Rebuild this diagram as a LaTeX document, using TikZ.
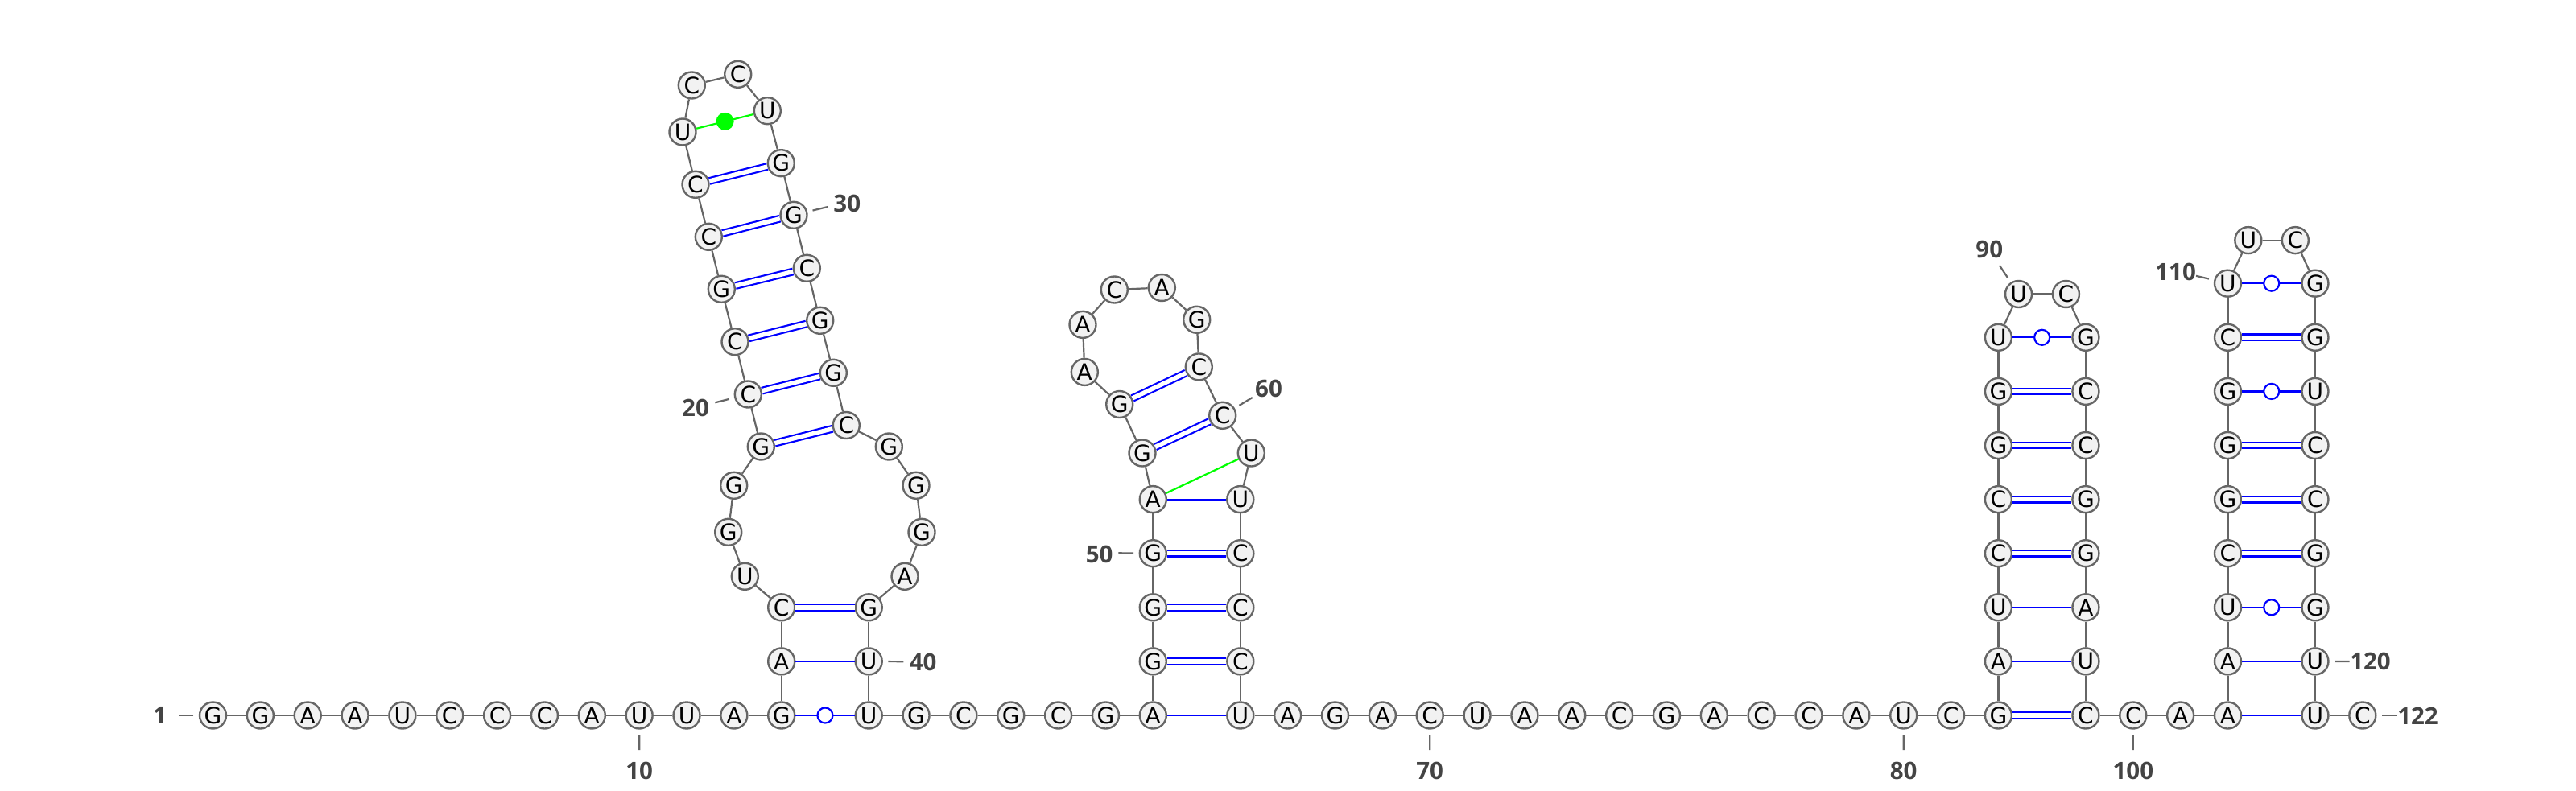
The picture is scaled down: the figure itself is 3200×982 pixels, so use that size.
\documentclass[tikz,border=0pt]{standalone}
\usepackage{fontspec}
\setmainfont{DejaVu Sans}
\setsansfont{Open Sans}
\definecolor{ntline}{HTML}{666666}
\definecolor{ntfill}{HTML}{F2F2F2}
\definecolor{numtext}{HTML}{444444}
\definecolor{gubond}{HTML}{0000FF}
\definecolor{ugbond}{HTML}{00FF00}
\begin{document}
\begin{tikzpicture}[x=1pt,y=-1pt,
  nt/.style={circle,draw=ntline,fill=ntfill,line width=2.4pt,minimum size=33pt,inner sep=0pt,font=\fontsize{28pt}{28pt}\selectfont},
  nextof/.style={node distance=58.85pt,right of=#1},
  upof/.style={node distance=67.1pt,above of=#1},
  pairof/.style={node distance=108.5pt,right of=#1},
  bb/.style={draw=ntline,line width=2.2pt},
  single/.style={draw=gubond,line width=2.2pt},
  double bond/.style={draw=gubond,line width=2.2pt,double=white,double distance=5.4pt},
  green bond/.style={draw=ugbond,line width=2.2pt},
  ring/.style={circle,draw=gubond,fill=white,line width=2.2pt,minimum size=19pt,inner sep=0pt},
  dot/.style={circle,fill=ugbond,minimum size=22pt,inner sep=0pt},
  tick/.style={draw=ntline,line width=2.2pt,shorten <=6.5pt},
  num/.style={text=numtext,inner sep=0pt,font=\sffamily\bfseries\fontsize{29.5pt}{30pt}\selectfont}]
\useasboundingbox (0,0) rectangle (3200,982);
\node (n1) [nt] at (264.5,889) {G};
\node (n2) [nt,nextof=n1] {G};
\node (n3) [nt,nextof=n2] {A};
\node (n4) [nt,nextof=n3] {A};
\node (n5) [nt,nextof=n4] {U};
\node (n6) [nt,nextof=n5] {C};
\node (n7) [nt,nextof=n6] {C};
\node (n8) [nt,nextof=n7] {C};
\node (n9) [nt,nextof=n8] {A};
\node (n10) [nt,nextof=n9] {U};
\node (n11) [nt,nextof=n10] {U};
\node (n12) [nt,nextof=n11] {A};
\node (n13) [nt,nextof=n12] {G};
\node (n14) [nt,upof=n13] {A};
\node (n15) [nt,upof=n14] {C};
\node (n16) [nt] at (925.3,716.3) {U};
\node (n17) [nt] at (904.7,661.3) {G};
\node (n18) [nt] at (911.7,603.3) {G};
\node (n19) [nt] at (945.3,555) {G};
\node (n20) [nt] at (929.3,490) {C};
\node (n21) [nt] at (913,424.7) {C};
\node (n22) [nt] at (896.3,359.3) {G};
\node (n23) [nt] at (880.3,294.3) {C};
\node (n24) [nt] at (864,229.3) {C};
\node (n25) [nt] at (848,164) {U};
\node (n26) [nt] at (859.3,106) {C};
\node (n27) [nt] at (916.7,92.3) {C};
\node (n28) [nt] at (953.3,137.7) {U};
\node (n29) [nt] at (970.3,202.7) {G};
\node (n30) [nt] at (986,267.3) {G};
\node (n31) [nt] at (1002.3,333.3) {C};
\node (n32) [nt] at (1018.7,398.3) {G};
\node (n33) [nt] at (1035.3,463.3) {G};
\node (n34) [nt] at (1051.3,528.5) {C};
\node (n35) [nt] at (1104.3,555) {G};
\node (n36) [nt] at (1138,603.3) {G};
\node (n37) [nt] at (1145,661.3) {G};
\node (n38) [nt] at (1124,716.3) {A};
\node (n41) [nt,pairof=n13] {U};
\node (n40) [nt,upof=n41] {U};
\node (n39) [nt,upof=n40] {G};
\node (n42) [nt,nextof=n41] {G};
\node (n43) [nt,nextof=n42] {C};
\node (n44) [nt,nextof=n43] {G};
\node (n45) [nt,nextof=n44] {C};
\node (n46) [nt,nextof=n45] {G};
\node (n47) [nt,nextof=n46] {A};
\node (n48) [nt,upof=n47] {G};
\node (n49) [nt,upof=n48] {G};
\node (n50) [nt,upof=n49] {G};
\node (n51) [nt,upof=n50] {A};
\node (n52) [nt] at (1419,563) {G};
\node (n53) [nt] at (1390.7,502.5) {G};
\node (n54) [nt] at (1347.3,462.4) {A};
\node (n55) [nt] at (1345,403.4) {A};
\node (n56) [nt] at (1384.3,360) {C};
\node (n57) [nt] at (1443.3,357.5) {A};
\node (n58) [nt] at (1486.7,397.3) {G};
\node (n59) [nt] at (1489.3,455.9) {C};
\node (n60) [nt] at (1518.7,516.3) {C};
\node (n61) [nt] at (1554.3,563) {U};
\node (n66) [nt,pairof=n47] {U};
\node (n65) [nt,upof=n66] {C};
\node (n64) [nt,upof=n65] {C};
\node (n63) [nt,upof=n64] {C};
\node (n62) [nt,upof=n63] {U};
\node (n67) [nt,nextof=n66] {A};
\node (n68) [nt,nextof=n67] {G};
\node (n69) [nt,nextof=n68] {A};
\node (n70) [nt,nextof=n69] {C};
\node (n71) [nt,nextof=n70] {U};
\node (n72) [nt,nextof=n71] {A};
\node (n73) [nt,nextof=n72] {A};
\node (n74) [nt,nextof=n73] {C};
\node (n75) [nt,nextof=n74] {G};
\node (n76) [nt,nextof=n75] {A};
\node (n77) [nt,nextof=n76] {C};
\node (n78) [nt,nextof=n77] {C};
\node (n79) [nt,nextof=n78] {A};
\node (n80) [nt,nextof=n79] {U};
\node (n81) [nt,nextof=n80] {C};
\node (n82) [nt,nextof=n81] {G};
\node (n83) [nt,upof=n82] {A};
\node (n84) [nt,upof=n83] {U};
\node (n85) [nt,upof=n84] {C};
\node (n86) [nt,upof=n85] {C};
\node (n87) [nt,upof=n86] {G};
\node (n88) [nt,upof=n87] {G};
\node (n89) [nt,upof=n88] {U};
\node (n90) [nt] at (2507.5,365.5) {U};
\node (n91) [nt] at (2566.4,365.5) {C};
\node (n99) [nt,pairof=n82] {C};
\node (n98) [nt,upof=n99] {U};
\node (n97) [nt,upof=n98] {A};
\node (n96) [nt,upof=n97] {G};
\node (n95) [nt,upof=n96] {G};
\node (n94) [nt,upof=n95] {C};
\node (n93) [nt,upof=n94] {C};
\node (n92) [nt,upof=n93] {G};
\node (n100) [nt,nextof=n99] {C};
\node (n101) [nt,nextof=n100] {A};
\node (n102) [nt,nextof=n101] {A};
\node (n103) [nt,upof=n102] {A};
\node (n104) [nt,upof=n103] {U};
\node (n105) [nt,upof=n104] {C};
\node (n106) [nt,upof=n105] {G};
\node (n107) [nt,upof=n106] {G};
\node (n108) [nt,upof=n107] {G};
\node (n109) [nt,upof=n108] {C};
\node (n110) [nt,upof=n109] {U};
\node (n111) [nt] at (2792.8,298.6) {U};
\node (n112) [nt] at (2851.3,298.6) {C};
\node (n121) [nt,pairof=n102] {U};
\node (n120) [nt,upof=n121] {U};
\node (n119) [nt,upof=n120] {G};
\node (n118) [nt,upof=n119] {G};
\node (n117) [nt,upof=n118] {C};
\node (n116) [nt,upof=n117] {C};
\node (n115) [nt,upof=n116] {U};
\node (n114) [nt,upof=n115] {G};
\node (n113) [nt,upof=n114] {G};
\node (n122) [nt,nextof=n121] {C};

\path[bb] (n1) edge (n2);
\path[bb] (n2) edge (n3);
\path[bb] (n3) edge (n4);
\path[bb] (n4) edge (n5);
\path[bb] (n5) edge (n6);
\path[bb] (n6) edge (n7);
\path[bb] (n7) edge (n8);
\path[bb] (n8) edge (n9);
\path[bb] (n9) edge (n10);
\path[bb] (n10) edge (n11);
\path[bb] (n11) edge (n12);
\path[bb] (n12) edge (n13);
\path[bb] (n13) edge (n14);
\path[bb] (n14) edge (n15);
\path[bb] (n15) edge (n16);
\path[bb] (n16) edge (n17);
\path[bb] (n17) edge (n18);
\path[bb] (n18) edge (n19);
\path[bb] (n19) edge (n20);
\path[bb] (n20) edge (n21);
\path[bb] (n21) edge (n22);
\path[bb] (n22) edge (n23);
\path[bb] (n23) edge (n24);
\path[bb] (n24) edge (n25);
\path[bb] (n25) edge (n26);
\path[bb] (n26) edge (n27);
\path[bb] (n27) edge (n28);
\path[bb] (n28) edge (n29);
\path[bb] (n29) edge (n30);
\path[bb] (n30) edge (n31);
\path[bb] (n31) edge (n32);
\path[bb] (n32) edge (n33);
\path[bb] (n33) edge (n34);
\path[bb] (n34) edge (n35);
\path[bb] (n35) edge (n36);
\path[bb] (n36) edge (n37);
\path[bb] (n37) edge (n38);
\path[bb] (n38) edge (n39);
\path[bb] (n39) edge (n40);
\path[bb] (n40) edge (n41);
\path[bb] (n41) edge (n42);
\path[bb] (n42) edge (n43);
\path[bb] (n43) edge (n44);
\path[bb] (n44) edge (n45);
\path[bb] (n45) edge (n46);
\path[bb] (n46) edge (n47);
\path[bb] (n47) edge (n48);
\path[bb] (n48) edge (n49);
\path[bb] (n49) edge (n50);
\path[bb] (n50) edge (n51);
\path[bb] (n51) edge (n52);
\path[bb] (n52) edge (n53);
\path[bb] (n53) edge (n54);
\path[bb] (n54) edge (n55);
\path[bb] (n55) edge (n56);
\path[bb] (n56) edge (n57);
\path[bb] (n57) edge (n58);
\path[bb] (n58) edge (n59);
\path[bb] (n59) edge (n60);
\path[bb] (n60) edge (n61);
\path[bb] (n61) edge (n62);
\path[bb] (n62) edge (n63);
\path[bb] (n63) edge (n64);
\path[bb] (n64) edge (n65);
\path[bb] (n65) edge (n66);
\path[bb] (n66) edge (n67);
\path[bb] (n67) edge (n68);
\path[bb] (n68) edge (n69);
\path[bb] (n69) edge (n70);
\path[bb] (n70) edge (n71);
\path[bb] (n71) edge (n72);
\path[bb] (n72) edge (n73);
\path[bb] (n73) edge (n74);
\path[bb] (n74) edge (n75);
\path[bb] (n75) edge (n76);
\path[bb] (n76) edge (n77);
\path[bb] (n77) edge (n78);
\path[bb] (n78) edge (n79);
\path[bb] (n79) edge (n80);
\path[bb] (n80) edge (n81);
\path[bb] (n81) edge (n82);
\path[bb] (n82) edge (n83);
\path[bb] (n83) edge (n84);
\path[bb] (n84) edge (n85);
\path[bb] (n85) edge (n86);
\path[bb] (n86) edge (n87);
\path[bb] (n87) edge (n88);
\path[bb] (n88) edge (n89);
\path[bb] (n89) edge (n90);
\path[bb] (n90) edge (n91);
\path[bb] (n91) edge (n92);
\path[bb] (n92) edge (n93);
\path[bb] (n93) edge (n94);
\path[bb] (n94) edge (n95);
\path[bb] (n95) edge (n96);
\path[bb] (n96) edge (n97);
\path[bb] (n97) edge (n98);
\path[bb] (n98) edge (n99);
\path[bb] (n99) edge (n100);
\path[bb] (n100) edge (n101);
\path[bb] (n101) edge (n102);
\path[bb] (n102) edge (n103);
\path[bb] (n103) edge (n104);
\path[bb] (n104) edge (n105);
\path[bb] (n105) edge (n106);
\path[bb] (n106) edge (n107);
\path[bb] (n107) edge (n108);
\path[bb] (n108) edge (n109);
\path[bb] (n109) edge (n110);
\path[bb] (n110) edge (n111);
\path[bb] (n111) edge (n112);
\path[bb] (n112) edge (n113);
\path[bb] (n113) edge (n114);
\path[bb] (n114) edge (n115);
\path[bb] (n115) edge (n116);
\path[bb] (n116) edge (n117);
\path[bb] (n117) edge (n118);
\path[bb] (n118) edge (n119);
\path[bb] (n119) edge (n120);
\path[bb] (n120) edge (n121);
\path[bb] (n121) edge (n122);

\path[single] (n13) edge node[ring] (w13) {} (n41);
\path[single] (n14) edge (n40);
\path (n15) edge[double bond] (n39);
\path (n19) edge[double bond] (n34);
\path (n20) edge[double bond] (n33);
\path (n21) edge[double bond] (n32);
\path (n22) edge[double bond] (n31);
\path (n23) edge[double bond] (n30);
\path (n24) edge[double bond] (n29);
\path[green bond] (n25) edge node[dot] (w25) {} (n28);
\path[single] (n47) edge (n66);
\path (n48) edge[double bond] (n65);
\path (n49) edge[double bond] (n64);
\path (n50) edge[double bond] (n63);
\path[single] (n51) edge (n62);
\path[green bond] (n51) edge (n61);
\path (n52) edge[double bond] (n60);
\path (n53) edge[double bond] (n59);
\path (n82) edge[double bond] (n99);
\path[single] (n83) edge (n98);
\path[single] (n84) edge (n97);
\path (n85) edge[double bond] (n96);
\path (n86) edge[double bond] (n95);
\path (n87) edge[double bond] (n94);
\path (n88) edge[double bond] (n93);
\path[single] (n89) edge node[ring] (w89) {} (n92);
\path[single] (n102) edge (n121);
\path[single] (n103) edge (n120);
\path[single] (n104) edge node[ring] (w104) {} (n119);
\path (n105) edge[double bond] (n118);
\path (n106) edge[double bond] (n117);
\path (n107) edge[double bond] (n116);
\path[single] (n108) edge node[ring] (w108) {} (n115);
\path (n109) edge[double bond] (n114);
\path[single] (n110) edge node[ring] (w110) {} (n113);

\node (l1) [num] at (198.8,889.3) {1};
\node (l10) [num] at (794.2,958) {10};
\node (l20) [num] at (864,506.7) {20};
\node (l30) [num] at (1052.3,253.3) {30};
\node (l40) [num] at (1146.7,822.7) {40};
\node (l50) [num] at (1365.7,688.5) {50};
\node (l60) [num] at (1576,482.6) {60};
\node (l70) [num] at (1776.2,958) {70};
\node (l80) [num] at (2364.7,958) {80};
\node (l90) [num] at (2471.3,310) {90};
\node (l100) [num] at (2649.8,958) {100};
\node (l110) [num] at (2702.6,338) {110};
\node (l120) [num] at (2944.5,822) {120};
\node (l122) [num] at (3003.5,889.5) {122};
\coordinate (t1) at (221.6,889);
\coordinate (t10) at (794.2,932);
\coordinate (t20) at (888.3,500.3);
\coordinate (t30) at (1028.3,257);
\coordinate (t40) at (1122.3,822.2);
\coordinate (t50) at (1389.3,687.3);
\coordinate (t60) at (1555.7,494);
\coordinate (t70) at (1776.2,932);
\coordinate (t80) at (2364.7,932);
\coordinate (t90) at (2483.8,329.8);
\coordinate (t100) at (2649.8,932);
\coordinate (t110) at (2728,342.8);
\coordinate (t120) at (2918.7,822);
\coordinate (t122) at (2978,889);
\path[tick] (n1) edge (t1);
\path[tick] (n10) edge (t10);
\path[tick] (n20) edge (t20);
\path[tick] (n30) edge (t30);
\path[tick] (n40) edge (t40);
\path[tick] (n50) edge (t50);
\path[tick] (n60) edge (t60);
\path[tick] (n70) edge (t70);
\path[tick] (n80) edge (t80);
\path[tick] (n90) edge (t90);
\path[tick] (n100) edge (t100);
\path[tick] (n110) edge (t110);
\path[tick] (n120) edge (t120);
\path[tick] (n122) edge (t122);
\end{tikzpicture}
\end{document}
